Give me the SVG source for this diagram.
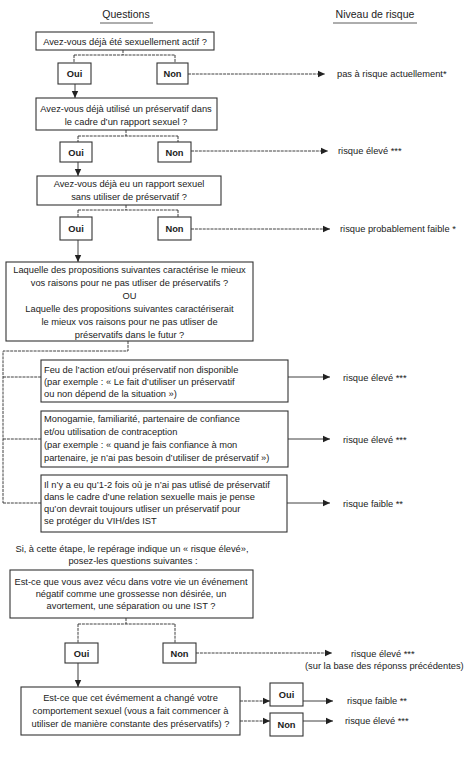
<svg xmlns="http://www.w3.org/2000/svg" width="471" height="764" viewBox="0 0 471 764">
<defs>
<marker id="arr" markerUnits="userSpaceOnUse" markerWidth="8" markerHeight="8" viewBox="0 0 8 8" refX="7" refY="4" orient="auto">
<path d="M0,0.8 L7,4 L0,7.2 Z" fill="#222"/>
</marker>
<style>
text{font-family:"Liberation Sans",Arial,sans-serif;font-size:9.3px;fill:#222}
.c{text-anchor:middle}
.h{font-size:10.5px}
.b{font-weight:bold}
rect{fill:#fff;stroke:#333;stroke-width:1.1}
.ln{fill:none;stroke:#2a2a2a;stroke-width:0.9}
.d{stroke-dasharray:3 0.9}
.u{stroke:#333;stroke-width:0.8}
</style>
</defs>
<rect width="471" height="764" style="fill:#fff;stroke:none"/>

<g id="headers">
<text class="c h" x="126" y="18">Questions</text>
<line class="u" x1="100" y1="23" x2="153" y2="23"/>
<text class="c h" x="375" y="18">Niveau de risque</text>
<line class="u" x1="333" y1="23" x2="417" y2="23"/>
</g>

<g id="connectors">
<path class="ln d" d="M123,50 V55 M74,55 H175 M74,55 V63 M175,55 V63"/>
<path class="ln d" d="M188,74 H325" marker-end="url(#arr)"/>
<path class="ln" d="M75,84 V98" marker-end="url(#arr)"/>
<path class="ln d" d="M126,130 V136 M78,136 H178 M78,136 V142 M178,136 V142"/>
<path class="ln d" d="M191,151 H328" marker-end="url(#arr)"/>
<path class="ln" d="M78,162 V176" marker-end="url(#arr)"/>
<path class="ln d" d="M126,205 V210 M78,210 H178 M78,210 V217 M178,210 V217"/>
<path class="ln d" d="M191,229 H330" marker-end="url(#arr)"/>
<path class="ln" d="M78,240 V262" marker-end="url(#arr)"/>
<path class="ln d" d="M128,341 V351 H3 V503 M3,377 H41 M3,439 H41 M3,503 H41"/>
<path class="ln" d="M288,377 H330" marker-end="url(#arr)"/>
<path class="ln" d="M288,439 H330" marker-end="url(#arr)"/>
<path class="ln" d="M287,503 H330" marker-end="url(#arr)"/>
<path class="ln d" d="M126,618 V624 M78,624 H175 M78,624 V643 M175,624 V643"/>
<path class="ln d" d="M196,653 H332" marker-end="url(#arr)"/>
<path class="ln" d="M78,663 V687" marker-end="url(#arr)"/>
<path class="ln d" d="M240,701 H270" marker-end="url(#arr)"/>
<path class="ln d" d="M240,721 H270" marker-end="url(#arr)"/>
<path class="ln" d="M303,701 H333" marker-end="url(#arr)"/>
<path class="ln" d="M303,721 H333" marker-end="url(#arr)"/>
</g>

<g id="q1">
<rect x="36" y="32" width="178" height="18"/>
<text class="c" x="125" y="44.5">Avez-vous déjà été sexuellement actif ?</text>
</g>
<g id="q1-oui"><rect x="58" y="63" width="33" height="21"/><text class="c b" x="74.5" y="77">Oui</text></g>
<g id="q1-non"><rect x="157" y="63" width="31" height="21"/><text class="c b" x="172.5" y="77">Non</text></g>
<g id="r1"><text x="337" y="77">pas à risque actuellement*</text></g>

<g id="q2">
<rect x="36" y="98" width="181" height="32"/>
<text class="c" x="126" y="112">Avez-vous déjà utilisé un préservatif dans</text>
<text class="c" x="126" y="125">le cadre d’un rapport sexuel ?</text>
</g>
<g id="q2-oui"><rect x="60" y="142" width="32" height="20"/><text class="c b" x="76" y="155.5">Oui</text></g>
<g id="q2-non"><rect x="158" y="142" width="33" height="20"/><text class="c b" x="174.5" y="155.5">Non</text></g>
<g id="r2"><text x="338" y="154">risque élevé ***</text></g>

<g id="q3">
<rect x="37" y="176" width="184" height="29"/>
<text class="c" x="129" y="186.5">Avez-vous déjà eu un rapport sexuel</text>
<text class="c" x="129" y="200">sans utiliser de préservatif ?</text>
</g>
<g id="q3-oui"><rect x="60" y="217" width="32" height="23"/><text class="c b" x="76" y="232">Oui</text></g>
<g id="q3-non"><rect x="158" y="217" width="33" height="23"/><text class="c b" x="174.5" y="232">Non</text></g>
<g id="r3"><text x="340" y="232">risque probablement faible *</text></g>

<g id="q4">
<rect x="6" y="262" width="247" height="79"/>
<text class="c" x="129.5" y="273">Laquelle des propositions suivantes caractérise le mieux</text>
<text class="c" x="129.5" y="286">vos raisons pour ne pas utliser de préservatifs ?</text>
<text class="c" x="129.5" y="299">OU</text>
<text class="c" x="129.5" y="312">Laquelle des propositions suivantes caractériserait</text>
<text class="c" x="129.5" y="325">le mieux vos raisons pour ne pas utliser de</text>
<text class="c" x="129.5" y="337.5">préservatifs dans le futur ?</text>
</g>

<g id="a1">
<rect x="41" y="360" width="247" height="42"/>
<text x="44" y="372.5">Feu de l’action et/oui préservatif non disponible</text>
<text x="44" y="384.5">(par exemple : « Le fait d’utiliser un préservatif</text>
<text x="44" y="396.5">ou non dépend de la situation »)</text>
</g>
<g id="r4"><text x="343" y="380.5">risque élevé ***</text></g>

<g id="a2">
<rect x="41" y="411" width="247" height="56"/>
<text x="44" y="421.5">Monogamie, familiarité, partenaire de confiance</text>
<text x="44" y="434.5">et/ou utilisation de contraception</text>
<text x="44" y="447.5">(par exemple : « quand je fais confiance à mon</text>
<text x="44" y="460.5">partenaire, je n’ai pas besoin d’utiliser de préservatif »)</text>
</g>
<g id="r5"><text x="343" y="442.5">risque élevé ***</text></g>

<g id="a3">
<rect x="41" y="475" width="246" height="57"/>
<text x="44" y="487.5">Il n’y a eu qu’1-2 fois où je n’ai pas utlisé de préservatif</text>
<text x="44" y="499.5">dans le cadre d’une relation sexuelle mais je pense</text>
<text x="44" y="511.5">qu’on devrait toujours utliser un préservatif pour</text>
<text x="44" y="523.5">se protéger du VIH/des IST</text>
</g>
<g id="r6"><text x="343" y="506.5">risque faible **</text></g>

<g id="note">
<text class="c" x="132" y="551.5">Si, à cette étape, le repérage indique un « risque élevé»,</text>
<text class="c" x="133" y="563.5">posez-les questions suivantes :</text>
</g>

<g id="q5">
<rect x="10" y="570" width="243" height="48"/>
<text class="c" x="131" y="584.5">Est-ce que vous avez vécu dans votre vie un événement</text>
<text class="c" x="131" y="596.5">négatif comme une grossesse non désirée, un</text>
<text class="c" x="131" y="608.5">avortement, une séparation ou une IST ?</text>
</g>
<g id="q5-oui"><rect x="65" y="643" width="33" height="20"/><text class="c b" x="81.5" y="656.5">Oui</text></g>
<g id="q5-non"><rect x="163" y="643" width="33" height="20"/><text class="c b" x="179.5" y="656.5">Non</text></g>
<g id="r7">
<text x="351" y="656.5">risque élevé ***</text>
<text x="305" y="668.5">(sur la base des réponss précédentes)</text>
</g>

<g id="q6">
<rect x="21" y="687" width="219" height="48"/>
<text class="c" x="130.5" y="700.5">Est-ce que cet évémement a changé votre</text>
<text class="c" x="130.5" y="713.5">comportement sexuel (vous a fait commencer à</text>
<text class="c" x="130.5" y="726.5">utiliser de manière constante des préservatifs) ?</text>
</g>
<g id="q6-oui"><rect x="270" y="683" width="33" height="23"/><text class="c b" x="286.5" y="698">Oui</text></g>
<g id="q6-non"><rect x="270" y="713" width="33" height="23"/><text class="c b" x="286.5" y="728">Non</text></g>
<g id="r8"><text x="347" y="704">risque faible **</text></g>
<g id="r9"><text x="345" y="724">risque élevé ***</text></g>
</svg>
